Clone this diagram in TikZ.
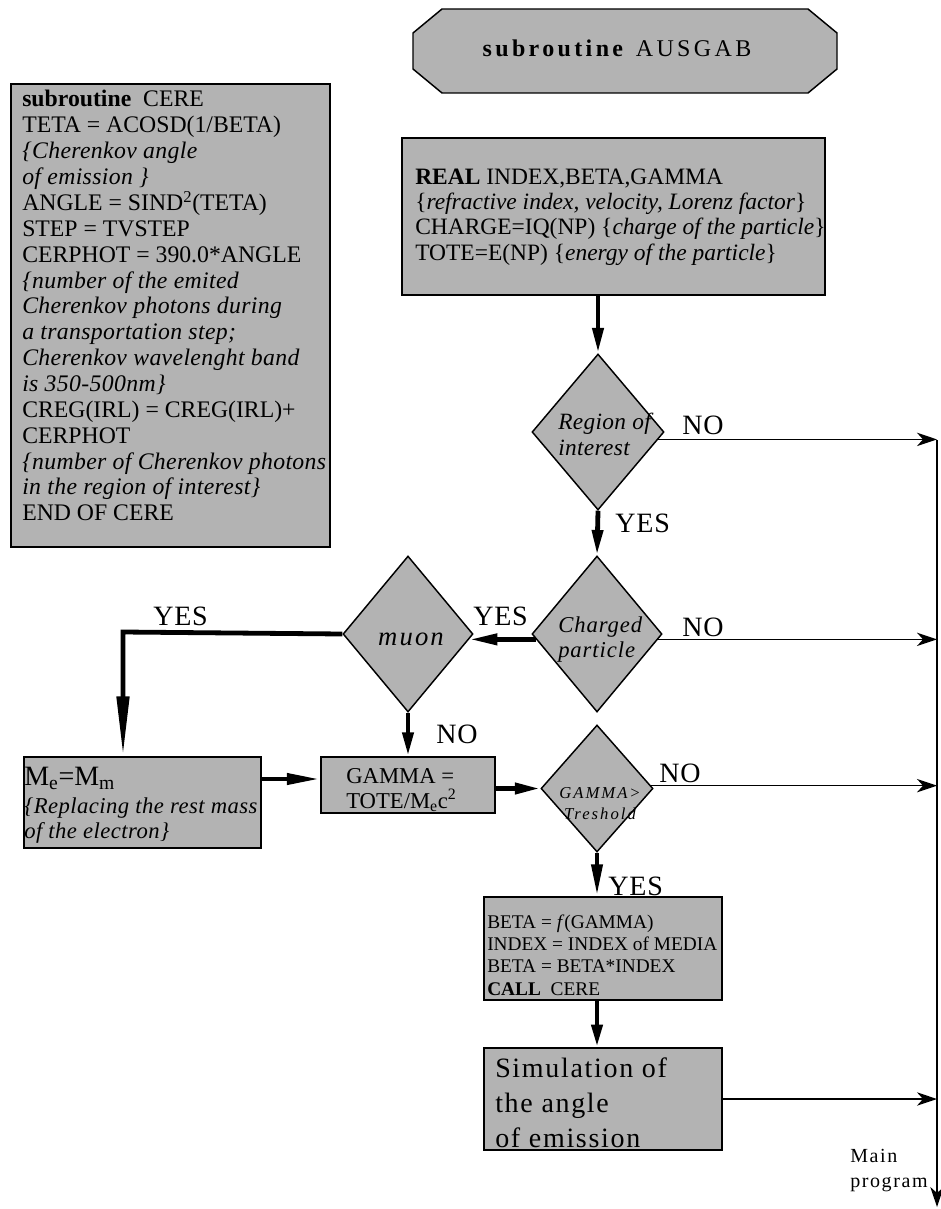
\documentclass[tikz,border=0pt]{standalone}
\usepackage{fontspec}
\setmainfont{Liberation Serif}
\usetikzlibrary{shapes.geometric,arrows.meta}
\definecolor{boxgray}{RGB}{179,179,179}
\newcommand\fsz[2]{\fontsize{#1}{#2}\selectfont}
\newcommand\ls[1]{\addfontfeature{LetterSpace=#1}}
\begin{document}
\begin{tikzpicture}[x=0.75pt,y=-0.75pt,
  box/.style={draw, line width=1.1pt, fill=boxgray, rectangle, inner sep=0pt},
  dia/.style={draw, line width=1.1pt, fill=boxgray, diamond, inner sep=0pt},
  txt/.style={inner sep=0pt, anchor=base west},
  lab/.style={inner sep=0pt, anchor=base west, font=\fsz{21}{25}\ls{3}},
  flowline/.style={line width=1.1pt, -{Stealth[length=15pt,width=10pt,inset=4.5pt]}},
  heavy/.style={line width=3.6pt, -{Triangle[length=#1,width=8pt]}}, heavy/.default=20pt
]
\useasboundingbox (0,0) rectangle (940,1209);

% title octagon
\draw[line width=1.1pt, fill=boxgray] (442,9) -- (808,9) -- (837,33) -- (837,69) -- (808,93) -- (442,93) -- (413,69) -- (413,33) -- cycle;
\node[inner sep=0pt, anchor=base] (title) at (617,57) {\fsz{18}{21}\ls{14}\textbf{subroutine} AUSGAB};

% boxes
\node[box, minimum width=319*0.75pt, minimum height=463*0.75pt] (cere) at (170.5,315.5) {};
\node[box, minimum width=423*0.75pt, minimum height=157*0.75pt] (real) at (613.5,216.5) {};
\node[box, minimum width=237*0.75pt, minimum height=91*0.75pt] (me) at (142.5,802.5) {};
\node[box, minimum width=174*0.75pt, minimum height=56*0.75pt] (gam) at (408,785) {};
\node[box, minimum width=238*0.75pt, minimum height=103*0.75pt] (beta) at (603,948.5) {};
\node[box, minimum width=238*0.75pt, minimum height=102*0.75pt] (sim) at (603,1099) {};

% diamonds
\node[dia, minimum width=132*0.75pt, minimum height=156*0.75pt] (region) at (598,432) {};
\node[dia, minimum width=130*0.75pt, minimum height=156*0.75pt] (charged) at (597,634) {};
\node[dia, minimum width=130*0.75pt, minimum height=156*0.75pt] (muon) at (408,634) {};
\node[dia, minimum width=112*0.75pt, minimum height=127*0.75pt] (gdia) at (597,788.5) {};

% texts
\node[txt] (ceretext) at (22,107) {\vtop{\fsz{17.8}{19.4}%
  \hbox{\textbf{subroutine}\ \ CERE}
  \hbox{TETA = ACOSD(1/BETA)}
  \hbox{\itshape\ls{1.5}\{Cherenkov angle}
  \hbox{\itshape\ls{1.5}of emission \}}
  \hbox{ANGLE = SIND\textsuperscript{2}(TETA)}
  \hbox{STEP = TVSTEP}
  \hbox{CERPHOT = 390.0*ANGLE}
  \hbox{\itshape\ls{1.5}\{number of the emited}
  \hbox{\itshape\ls{1.5}Cherenkov photons during}
  \hbox{\itshape\ls{1.5}a transportation step;}
  \hbox{\itshape\ls{1.5}Cherenkov wavelenght band}
  \hbox{\itshape\ls{1.5}is 350-500nm\}}
  \hbox{CREG(IRL) = CREG(IRL)+}
  \hbox{CERPHOT}
  \hbox{\itshape\ls{1.5}\{number of Cherenkov photons}
  \hbox{\itshape\ls{1.5}in the region of interest\}}
  \hbox{END OF CERE}}};

\node[txt] (realtext) at (415,185) {\vtop{\fsz{17.6}{18.75}%
  \hbox{\textbf{REAL} INDEX,BETA,GAMMA}
  \hbox{\{\textit{refractive index, velocity, Lorenz factor}\}}
  \hbox{CHARGE=IQ(NP) \{\textit{charge of the particle}\}}
  \hbox{TOTE=E(NP) \{\textit{energy of the particle}\}}}};

\node[txt] (regiontext) at (558,429) {\vtop{\fsz{17.5}{19.5}\itshape\ls{1.5}%
  \hbox{Region of}\hbox{interest}}};
\node[txt] (chargedtext) at (558,632) {\vtop{\fsz{17}{18.75}\itshape\ls{4}%
  \hbox{Charged}\hbox{particle}}};
\node[inner sep=0pt, anchor=base] (muontext) at (411,645) {\fsz{20}{24}\itshape\ls{8}muon};

\node[txt] (metitle) at (24,785) {\fsz{21}{24}M\textsubscript{e}=M\textsubscript{m}};
\node[txt] (metext) at (24,813) {\vtop{\fsz{17}{18.75}\itshape\ls{2}%
  \hbox{\{Replacing the rest mass}
  \hbox{of the electron\}}}};

\node[txt] (gamtext) at (346,783) {\vtop{\fsz{17}{18.75}%
  \hbox{GAMMA =}\hbox{TOTE/M\textsubscript{e}c\textsuperscript{2}}}};

\node[inner sep=0pt, anchor=base] (gdiatext) at (600,798) {\vtop{\fsz{12.5}{15.75}\itshape\ls{12}%
  \hbox to 0pt{\hss GAMMA>\hss}\hbox to 0pt{\hss Treshold\hss}}};

\node[txt] (betatext) at (487,928) {\vtop{\fsz{14.5}{16.75}%
  \hbox{BETA = \textit{f}(GAMMA)}
  \hbox{INDEX = INDEX of MEDIA}
  \hbox{BETA = BETA*INDEX}
  \hbox{\textbf{CALL}\ \ CERE}}};

\node[txt] (simtext) at (495,1077) {\vtop{\fsz{21}{26.25}\ls{6}%
  \hbox{Simulation of}\hbox{the angle}\hbox{of emission}}};

\node[txt] (maintext) at (850,1162) {\vtop{\fsz{15}{18.75}\ls{8}%
  \hbox{Main}\hbox{program}}};

% labels
\node[lab] (no1) at (682,434) {NO};
\node[lab] (yes1) at (615,532) {YES};
\node[lab] (yes2) at (473,625) {YES};
\node[lab] (no2) at (682,636) {NO};
\node[lab] (yes3) at (153,625) {YES};
\node[lab] (no3) at (436,743) {NO};
\node[lab] (no4) at (659,782) {NO};
\node[lab] (yes4) at (608,895) {YES};

% right-hand line
\coordinate (vtop) at (937,440);
\coordinate (vbot) at (937,1207);
\draw[flowline] (vtop) -- (vbot);
\draw[flowline] (region.-7) -- (region.-7 -| vtop);
\draw[flowline] (charged.-5) -- (charged.-5 -| vtop);
\draw[flowline] (gdia.3) -- (gdia.3 -| vtop);
\draw[flowline] (sim.east) -- (sim.east -| vtop);

% heavy arrows
\draw[heavy=19pt] (real.south -| region.north) -- (region.north);
\draw[heavy=19pt] (region.south) -- (charged.north);
\draw[heavy=21pt] (charged.185) -- (muon.-5);
\coordinate (lc) at (123,632);
\draw[line width=3.6pt, -{Triangle[length=45pt,width=9pt]}] (muon.west) -- (lc) -- (lc |- me.north);
\draw[heavy=18pt] (muon.south) -- (gam.north);
\path (me.east |- gam.west) ++(0,-6) coordinate (mg1);
\draw[heavy=25pt] (mg1) -- (mg1 -| gam.west);
\draw[heavy=19pt] (gam.east |- gdia.west) -- (gdia.west);
\draw[heavy=24pt] (gdia.south) -- (gdia.south |- beta.north);
\draw[heavy=17pt] (beta.south -| gdia.south) -- (sim.north -| gdia.south);
\end{tikzpicture}
\end{document}
